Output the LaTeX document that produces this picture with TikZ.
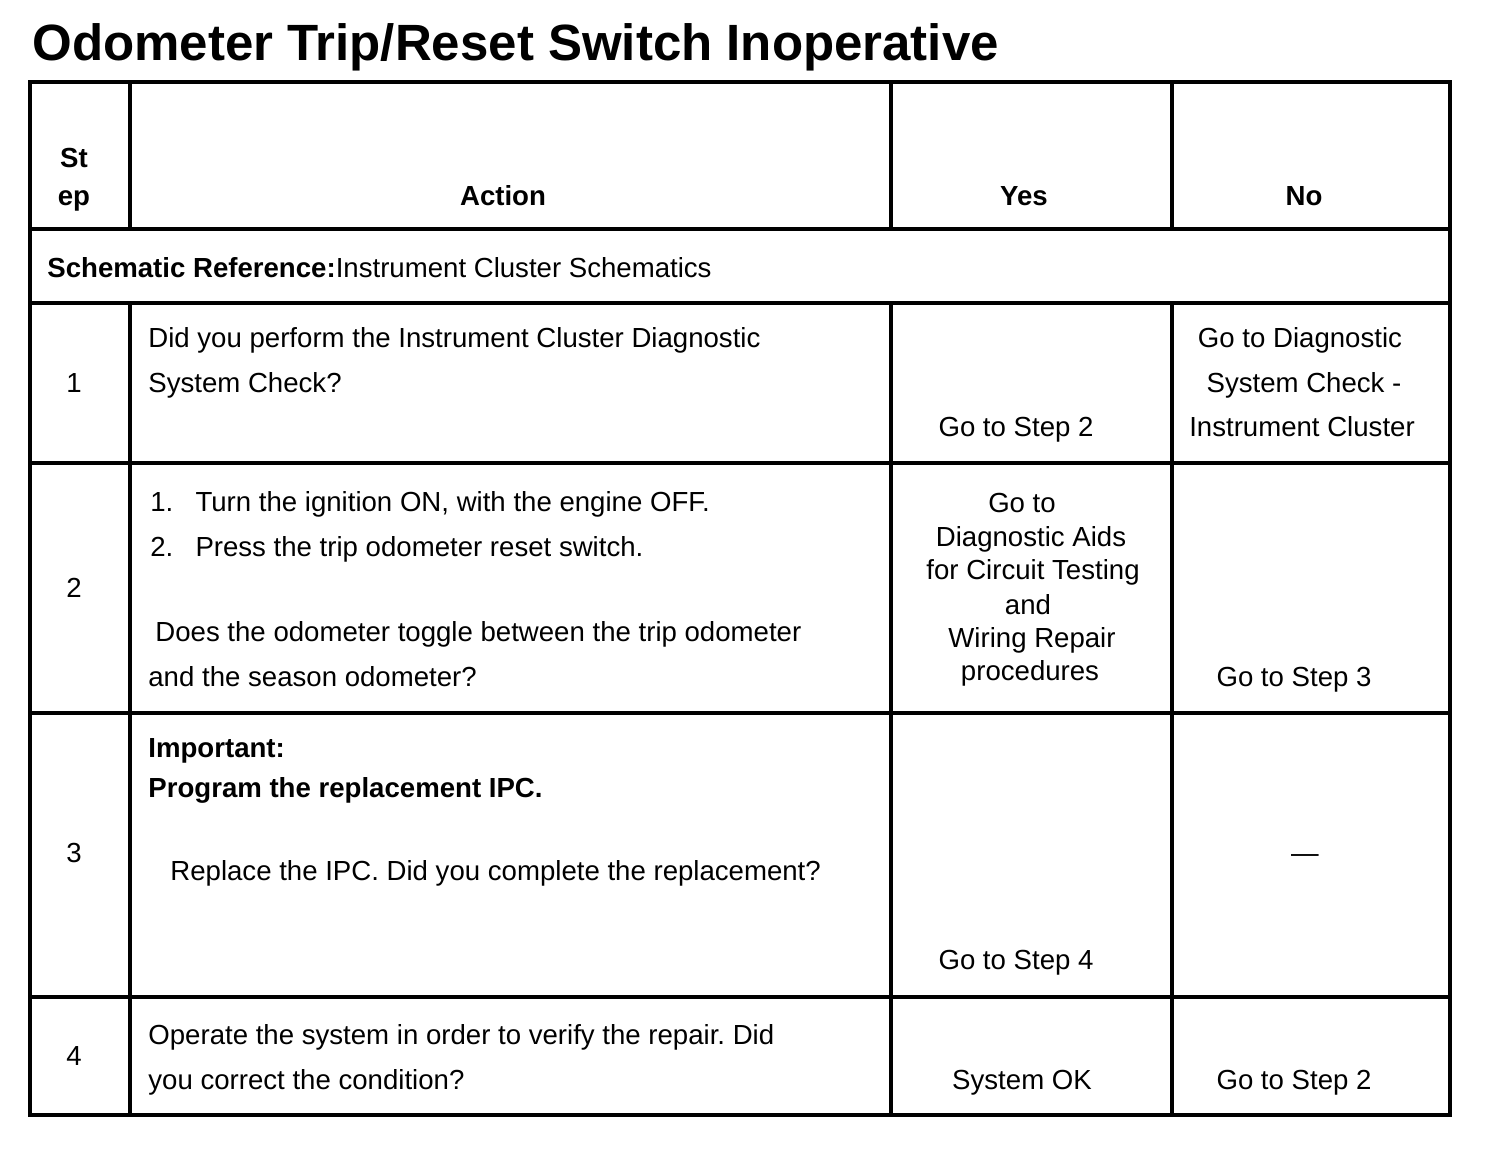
\documentclass[tikz,border=0pt]{standalone}
\usepackage{fontspec}
\setmainfont{Liberation Sans}
\usetikzlibrary{positioning}
\frenchspacing

\tikzset{
  grid/.style={line width=1.8pt, line cap=rect},
  txt/.style={inner sep=0pt, anchor=base west, font=\fontsize{13.8}{16}\selectfont},
  ctxt/.style={txt, anchor=base},
  hdr/.style={ctxt, font=\fontsize{13.8}{16}\selectfont\bfseries},
  btxt/.style={txt, font=\fontsize{13.8}{16}\selectfont\bfseries},
}

\begin{document}
\begin{tikzpicture}[x=0.5pt, y=-0.5pt]
  \useasboundingbox (0,0) rectangle (1504,1152);

  % title
  \node[txt, font=\fontsize{25.5}{30}\selectfont\bfseries] (title) at (32,60) {Odometer Trip/Reset Switch Inoperative};

  % table rules
  \draw[grid] (30,82) rectangle (1450,1115);
  \foreach \y in {229,303,463,713,997} \draw[grid] (30,\y) -- (1450,\y);
  \foreach \x in {891,1172} \draw[grid] (\x,82) -- (\x,229);
  \foreach \x in {130,891,1172} \draw[grid] (\x,303) -- (\x,1115);
  \draw[grid] (130,82) -- (130,229);

  % header
  \node[hdr] (hStep1) at (74,167) {St};
  \node[hdr] (hStep2) at (74,205) {ep};
  \node[hdr] (hAction) at (503,205) {Action};
  \node[hdr] (hYes) at (1024,205) {Yes};
  \node[hdr] (hNo) at (1304,205) {No};

  % schematic reference
  \node[txt] (schem) at (47,277) {\textbf{Schematic Reference:}Instrument Cluster Schematics};

  % step 1
  \node[ctxt] (s1) at (74,392) {1};
  \node[txt] (a1a) at (148,347) {Did you perform the Instrument Cluster Diagnostic};
  \node[txt] (a1b) at (148,392) {System Check?};
  \node[ctxt] (y1) at (1016,436) {Go to Step 2};
  \node[ctxt] (n1a) at (1300,347) {Go to Diagnostic};
  \node[ctxt] (n1b) at (1304,392) {System Check -};
  \node[ctxt] (n1c) at (1302,436) {Instrument Cluster};

  % step 2
  \node[ctxt] (s2) at (74,597) {2};
  \node[txt] (a2a) at (150,511) {1.\hspace{0.8em}Turn the ignition ON, with the engine OFF.};
  \node[txt] (a2b) at (150,556) {2.\hspace{0.8em}Press the trip odometer reset switch.};
  \node[txt] (a2c) at (155,641) {Does the odometer toggle between the trip odometer};
  \node[txt] (a2d) at (148,686) {and the season odometer?};
  \node[ctxt] (y2a) at (1022,512) {Go to};
  \node[ctxt] (y2b) at (1031,546) {Diagnostic Aids};
  \node[ctxt] (y2c) at (1033,579) {for Circuit Testing};
  \node[ctxt] (y2d) at (1028,614) {and};
  \node[ctxt] (y2e) at (1032,647) {Wiring Repair};
  \node[ctxt] (y2f) at (1030,680) {procedures};
  \node[ctxt] (n2) at (1294,686) {Go to Step 3};

  % step 3
  \node[ctxt] (s3) at (74,862) {3};
  \node[btxt] (a3a) at (148,757) {Important:};
  \node[btxt] (a3b) at (148,797) {Program the replacement IPC.};
  \node[txt] (a3c) at (170,880) {Replace the IPC. Did you complete the replacement?};
  \node[ctxt] (y3) at (1016,969) {Go to Step 4};
  \node[ctxt] (n3) at (1305,862) {—};

  % step 4
  \node[ctxt] (s4) at (74,1065) {4};
  \node[txt] (a4a) at (148,1044) {Operate the system in order to verify the repair. Did};
  \node[txt] (a4b) at (148,1089) {you correct the condition?};
  \node[ctxt] (y4) at (1022,1089) {System OK};
  \node[ctxt] (n4) at (1294,1089) {Go to Step 2};
\end{tikzpicture}
\end{document}
